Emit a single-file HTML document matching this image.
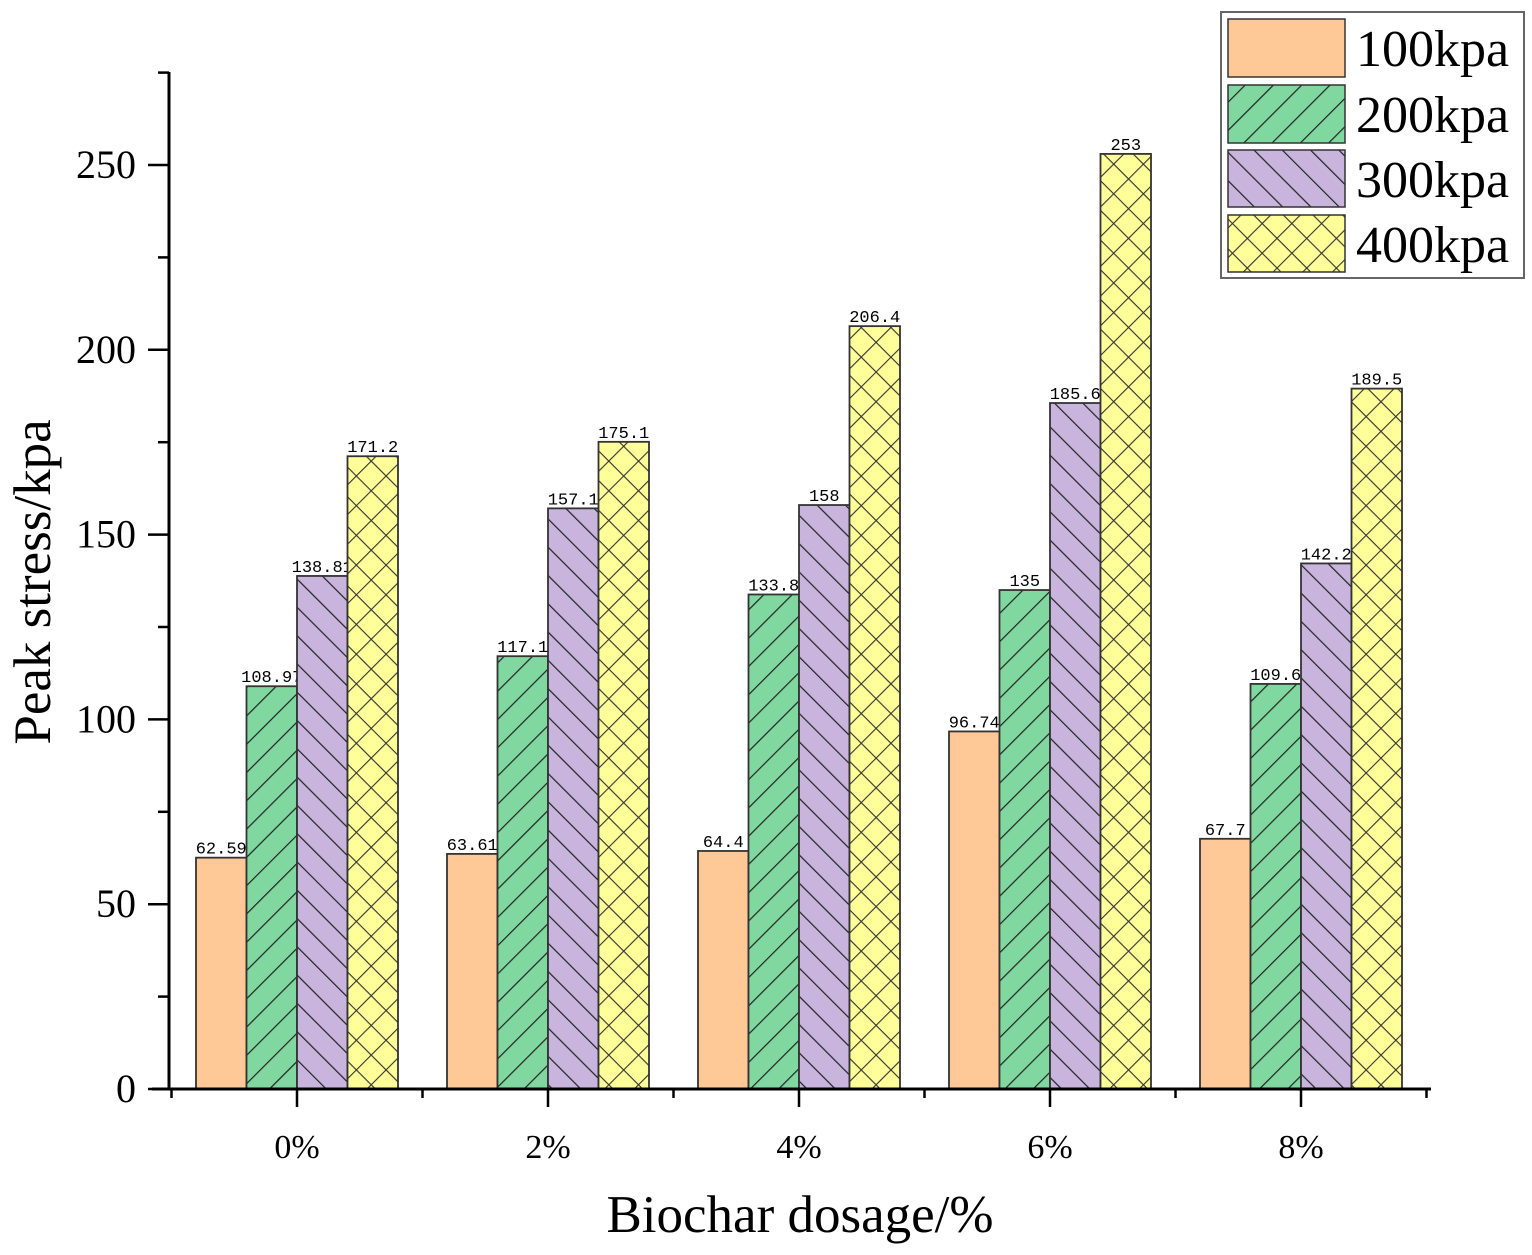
<!DOCTYPE html>
<html><head><meta charset="utf-8"><style>
body{margin:0;background:#fff;}
svg text{font-family:"Liberation Serif",serif;}
</style></head><body>
<svg id="chart" width="1532" height="1250" xmlns="http://www.w3.org/2000/svg">
<defs>
<pattern id="p200" patternUnits="userSpaceOnUse" width="20" height="20" patternTransform="rotate(45)"><rect width="20" height="20" fill="#80D8A0"/><line x1="0" y1="0" x2="0" y2="20" stroke="#222" stroke-width="2.4"/></pattern>
<pattern id="p300" patternUnits="userSpaceOnUse" width="20" height="20" patternTransform="rotate(-45)"><rect width="20" height="20" fill="#C8B4DC"/><line x1="0" y1="0" x2="0" y2="20" stroke="#222" stroke-width="2.4"/></pattern>
<pattern id="p400" patternUnits="userSpaceOnUse" width="21" height="21" patternTransform="rotate(45)"><rect width="21" height="21" fill="#FFFF99"/><line x1="0" y1="0" x2="0" y2="21" stroke="#333" stroke-width="2.2"/><line x1="0" y1="0" x2="21" y2="0" stroke="#333" stroke-width="2.2"/></pattern>
</defs>
<g id="bars"></g>
<g id="axes"></g>
<text x="0" y="0" transform="translate(50,582) rotate(-90)" text-anchor="middle" font-size="53">Peak stress/kpa</text>
<text x="800" y="1232" text-anchor="middle" font-size="53">Biochar dosage/%</text>
<g>
<rect x="1221" y="12" width="303" height="266" fill="#fff" stroke="#666" stroke-width="2"/>
<rect x="1228" y="19" width="117" height="58" fill="#FFC896" stroke="#333" stroke-width="1.5"/>
<text x="1356" y="66" font-size="52">100kpa</text>
<rect x="1228" y="85" width="117" height="58" fill="url(#p200)" stroke="#333" stroke-width="1.5"/>
<text x="1356" y="132" font-size="52">200kpa</text>
<rect x="1228" y="150" width="117" height="57" fill="url(#p300)" stroke="#333" stroke-width="1.5"/>
<text x="1356" y="197" font-size="52">300kpa</text>
<rect x="1228" y="215" width="117" height="57" fill="url(#p400)" stroke="#333" stroke-width="1.5"/>
<text x="1356" y="262" font-size="52">400kpa</text>
</g>
</svg>
<script>
const categories=["0%","2%","4%","6%","8%"];
const s100=[62.59,63.61,64.4,96.74,67.7];
const s200=[108.97,117.1,133.8,135,109.6];
const s300=[138.81,157.1,158,185.6,142.2];
const s400=[171.2,175.1,206.4,253,189.5];
const labels100=["62.59","63.61","64.4","96.74","67.7"];
const labels200=["108.97","117.1","133.8","135","109.6"];
const labels300=["138.81","157.1","158","185.6","142.2"];
const labels400=["171.2","175.1","206.4","253","189.5"];
const yTicks=[0,50,100,150,200,250];
const NS="http://www.w3.org/2000/svg";
const y=v=>1089-v*(924/250);
const xc=i=>297+i*251;
const bw=50.5;
function mk(tag,attrs,parent){const e=document.createElementNS(NS,tag);for(const k in attrs)e.setAttribute(k,attrs[k]);parent.appendChild(e);return e;}
const bars=document.getElementById('bars'),axes=document.getElementById('axes');
const series=[[s100,labels100,"#FFC896","100kpa"],[s200,labels200,"url(#p200)","200kpa"],[s300,labels300,"url(#p300)","300kpa"],[s400,labels400,"url(#p400)","400kpa"]];
series.forEach((s,si)=>{
  s[0].forEach((v,i)=>{
    const x0=xc(i)+(si-2)*bw;
    const r=mk('rect',{x:x0,y:y(v),width:bw,height:1089-y(v),fill:s[2],stroke:"#333","stroke-width":1.8},bars);
    
    
    const t=mk('text',{x:x0+bw/2,y:y(v)-4,"text-anchor":"middle","font-size":17,style:"font-family:'Liberation Mono',monospace"},bars);
    t.textContent=s[1][i];
    
    
  });
});
mk('line',{x1:169,y1:72,x2:169,y2:1090,stroke:"#000","stroke-width":3},axes);
mk('line',{x1:152,y1:1089,x2:1431,y2:1089,stroke:"#000","stroke-width":3},axes);
for(let v=0;v<=275;v+=25){
  const major=v%50===0;
  mk('line',{x1:major?148:158,y1:y(v),x2:169,y2:y(v),stroke:"#000","stroke-width":2.5},axes);
}
yTicks.forEach(v=>{
  const t=mk('text',{x:136,y:y(v)+13,"text-anchor":"end","font-size":40},axes);
  t.textContent=v;
  
  
});
categories.forEach((c,i)=>{
  mk('line',{x1:xc(i),y1:1089,x2:xc(i),y2:1107,stroke:"#000","stroke-width":2.5},axes);
  mk('line',{x1:xc(i)-125.5,y1:1089,x2:xc(i)-125.5,y2:1098,stroke:"#000","stroke-width":2.5},axes);
  const t=mk('text',{x:xc(i),y:1158,"text-anchor":"middle","font-size":34},axes);
  t.textContent=c;
  
  
});
mk('line',{x1:xc(4)+125.5,y1:1089,x2:xc(4)+125.5,y2:1098,stroke:"#000","stroke-width":2.5},axes);
</script>
</body></html>
